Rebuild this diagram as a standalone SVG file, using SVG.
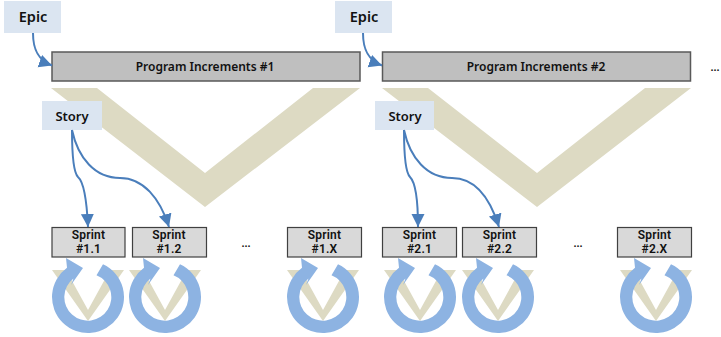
<svg xmlns="http://www.w3.org/2000/svg" xmlns:xlink="http://www.w3.org/1999/xlink" width="721" height="337" viewBox="0 0 721 337">
<style>
text{font-family:"Noto Sans","Liberation Sans",sans-serif;font-weight:600;fill:#111;text-anchor:middle}
.lbl{fill:#dbe5f1}
.epic{font-size:14.500px}
.story{font-size:13px}
.pi{fill:#bfbfbf;stroke:#595959;stroke-width:1.5}
.pit{font-size:12px}
.sp{fill:#d9d9d9;stroke:#404040;stroke-width:1.2}
.spt{font-family:Roboto,"Noto Sans",sans-serif;font-size:12px;letter-spacing:.2px}
.v{fill:#dddac3}
.conn{fill:none;stroke:#4a7ebb;stroke-width:2}
.dots{font-size:11px}
</style>
<defs>
<marker id="arr" markerUnits="userSpaceOnUse" markerWidth="14" markerHeight="14" refX="13" refY="6.500" orient="auto"><path d="M0 0L13 6.500L0 13Z" fill="#4a7ebb"/></marker>
<g id="cycle">
<path class="v" d="M-36 -27H-22L0 13L22 -27H36L0 24Z"/>
<path fill="#8db3e2" d="M8.500 -21.700L15 -32.700A36 36 0 1 1 -21 -29.200L-22 -39L-5 -29L-17 -12L-14.500 -18.500A23.500 23.500 0 1 0 8.500 -21.700Z"/>
</g>
</defs>

<g id="v-large-1"><path class="v" d="M51 88H97L205 173L313 88H360L205 207Z"/></g>
<g id="v-large-2"><path class="v" d="M382 88H428L537 173L645 88H691L537 207Z"/></g>

<g id="epic-1"><rect class="lbl" x="4" y="1" width="57" height="32"/><text class="epic" x="33" y="22">Epic</text></g>
<g id="epic-2"><rect class="lbl" x="335" y="1" width="57" height="32"/><text class="epic" x="364" y="22">Epic</text></g>
<g id="pi-1"><rect class="pi" x="52" y="52" width="308" height="29"/><text class="pit" x="205" y="71">Program Increments #1</text></g>
<g id="pi-2"><rect class="pi" x="382.500" y="52" width="308" height="29"/><text class="pit" x="536" y="71">Program Increments #2</text></g>
<g id="story-1"><rect class="lbl" x="42" y="101" width="60" height="29"/><text class="story" x="72" y="121">Story</text></g>
<g id="story-2"><rect class="lbl" x="375" y="101" width="59" height="29"/><text class="story" x="405" y="121">Story</text></g>

<g id="sprint-1-1"><use xlink:href="#cycle" href="#cycle" x="88" y="297"/><rect class="sp" x="52" y="227.500" width="73" height="29.500"/><text class="spt" x="88.500" y="239">Sprint<tspan x="88.500" dy="14.200">#1.1</tspan></text></g>
<g id="sprint-1-2"><use xlink:href="#cycle" href="#cycle" x="165" y="297"/><rect class="sp" x="132.500" y="227.500" width="74" height="29.500"/><text class="spt" x="169" y="239">Sprint<tspan x="169" dy="14.200">#1.2</tspan></text></g>
<g id="sprint-1-x"><use xlink:href="#cycle" href="#cycle" x="323" y="297"/><rect class="sp" x="287.500" y="227.500" width="74" height="29.500"/><text class="spt" x="324.500" y="239">Sprint<tspan x="324.500" dy="14.200">#1.X</tspan></text></g>
<g id="sprint-2-1"><use xlink:href="#cycle" href="#cycle" x="420" y="297"/><rect class="sp" x="382.500" y="227.500" width="74" height="29.500"/><text class="spt" x="419.500" y="239">Sprint<tspan x="419.500" dy="14.200">#2.1</tspan></text></g>
<g id="sprint-2-2"><use xlink:href="#cycle" href="#cycle" x="498" y="297"/><rect class="sp" x="462.500" y="227.500" width="74" height="29.500"/><text class="spt" x="499.500" y="239">Sprint<tspan x="499.500" dy="14.200">#2.2</tspan></text></g>
<g id="sprint-2-x"><use xlink:href="#cycle" href="#cycle" x="656" y="297"/><rect class="sp" x="617.500" y="227.500" width="74" height="29.500"/><text class="spt" x="654.500" y="239">Sprint<tspan x="654.500" dy="14.200">#2.X</tspan></text></g>

<g id="connectors">
<path class="conn" marker-end="url(#arr)" d="M33 33C33 48 37 60 52 65.500"/>
<path class="conn" marker-end="url(#arr)" d="M363 33C363 48 367 60 382 65.500"/>
<path class="conn" marker-end="url(#arr)" d="M72 130C72 150 73 172 78 177C85 183 87 205 88 227"/>
<path class="conn" marker-end="url(#arr)" d="M72 130C78 158 95 178 120 178C143 178 160 198 169 227"/>
<path class="conn" marker-end="url(#arr)" d="M404 130C404 150 405 172 410 177C416 183 418 205 418 227"/>
<path class="conn" marker-end="url(#arr)" d="M404 130C410 158 427 178 452 178C475 178 490 198 499 227"/>
</g>

<text class="dots" x="246" y="247">...</text>
<text class="dots" x="578" y="247">...</text>
<text class="dots" x="715" y="71">...</text>
</svg>
